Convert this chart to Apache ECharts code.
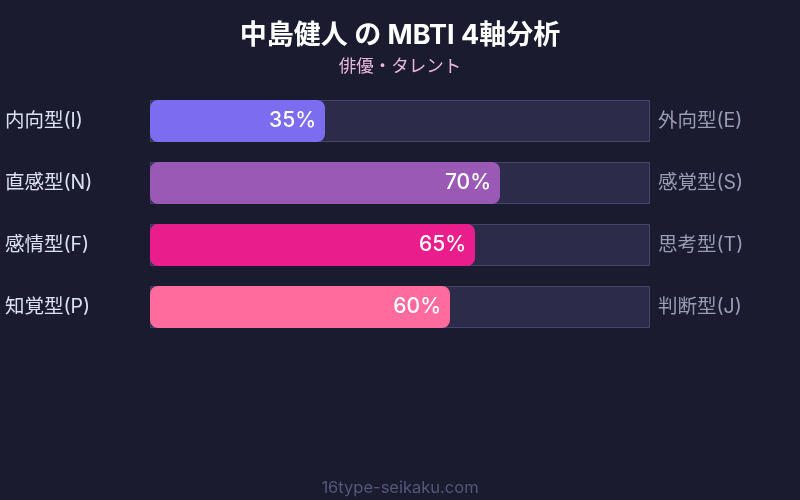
<!DOCTYPE html>
<html><head><meta charset="utf-8">
<script src="https://cdn.jsdelivr.net/npm/echarts@6/dist/echarts.min.js"></script>
<style>html,body{margin:0;padding:0;background:#1a1b2e;}#c{width:800px;height:500px;}</style>
</head><body><div id="c"></div>
<script>
const leftLabels = ['内向型(I)', '直感型(N)', '感情型(F)', '知覚型(P)'];
const rightLabels = ['外向型(E)', '感覚型(S)', '思考型(T)', '判断型(J)'];
const values = [35, 70, 65, 60];
const fullValues = [100, 100, 100, 100];
const barColors = ['#7b6cf0', '#9b59b6', '#e91e8c', '#ff6b9d'];
const FONT = "Inter, 'Noto Sans CJK JP', sans-serif";

const chart = echarts.init(document.getElementById('c'));
chart.setOption({
  backgroundColor: '#1a1b2e',
  animation: false,
  title: [
    { text: '中島健人 の MBTI 4軸分析', left: 'center', top: 17,
      textStyle: { color: '#ffffff', fontSize: 27, fontWeight: 'bold', fontFamily: FONT } },
    { text: '俳優・タレント', left: 'center', top: 53,
      textStyle: { color: '#e8b8dc', fontSize: 17.5, fontWeight: 'normal', fontFamily: FONT } },
    { text: '16type-seikaku.com', left: 'center', top: 475,
      textStyle: { color: '#55567a', fontSize: 16.5, fontWeight: 'normal', fontFamily: FONT } }
  ],
  grid: { left: 150, right: 150, top: 90, bottom: 162 },
  xAxis: { type: 'value', min: 0, max: 100, show: false },
  yAxis: [
    { type: 'category', data: leftLabels, inverse: true, position: 'left',
      axisLine: { show: false }, axisTick: { show: false },
      axisLabel: { color: '#dde0f0', fontSize: 19.5, fontFamily: FONT, align: 'left', margin: 145 } },
    { type: 'category', data: rightLabels, inverse: true, position: 'right',
      axisLine: { show: false }, axisTick: { show: false },
      axisLabel: { color: '#9a9cb4', fontSize: 19.5, fontFamily: FONT, margin: 8 } }
  ],
  series: [
    { type: 'bar', data: fullValues, barWidth: 42, z: 1, silent: true,
      itemStyle: { color: '#2d2b4a', borderColor: '#45446a', borderWidth: 1 } },
    { type: 'bar', data: values.map((v, i) => ({ value: v, itemStyle: { color: barColors[i] } })),
      barWidth: 42, barGap: '-100%', z: 2,
      itemStyle: { borderRadius: 8 },
      label: { show: true, position: 'insideRight', distance: 9, formatter: '{c}%',
        color: '#ffffff', fontSize: 21, fontWeight: 500, fontFamily: FONT } }
  ]
});
</script></body></html>
